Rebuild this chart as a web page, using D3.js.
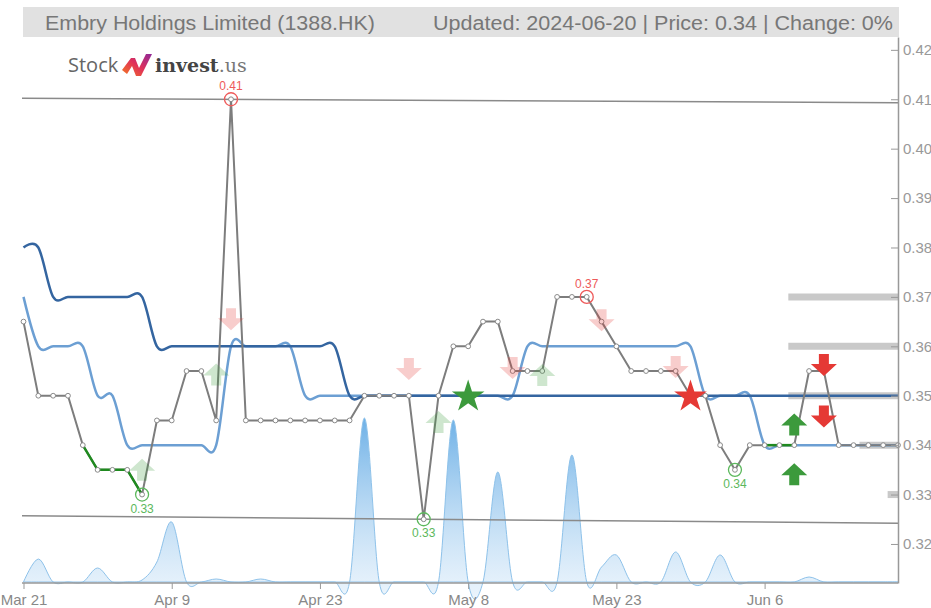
<!DOCTYPE html>
<html>
<head>
<meta charset="utf-8">
<script type="text/javascript" src="https://d3js.org/d3.v7.min.js"></script>
<title>1388.HK</title>
<style>
body { margin: 0; background: #fff; }
svg { display: block; font-family: "Liberation Sans", Arial, sans-serif; }
</style>
</head>
<body>
<div id="viz"></div>
<script type="text/javascript">

// trading days shown on the chart
var dates = ["2024-03-21","2024-03-22","2024-03-25","2024-03-26","2024-03-27","2024-03-28",
    "2024-04-02","2024-04-03","2024-04-05","2024-04-08","2024-04-09","2024-04-10","2024-04-11",
    "2024-04-12","2024-04-15","2024-04-16","2024-04-17","2024-04-18","2024-04-19","2024-04-22",
    "2024-04-23","2024-04-24","2024-04-25","2024-04-26","2024-04-29","2024-04-30","2024-05-02",
    "2024-05-03","2024-05-06","2024-05-07","2024-05-08","2024-05-09","2024-05-10","2024-05-13",
    "2024-05-14","2024-05-16","2024-05-17","2024-05-20","2024-05-21","2024-05-22","2024-05-23",
    "2024-05-24","2024-05-27","2024-05-28","2024-05-29","2024-05-30","2024-05-31","2024-06-03",
    "2024-06-04","2024-06-05","2024-06-06","2024-06-07","2024-06-11","2024-06-12","2024-06-13",
    "2024-06-14","2024-06-17","2024-06-18","2024-06-19","2024-06-20"];

var price = [0.365,0.35,0.35,0.35,0.34,0.335,0.335,0.335,0.33,0.345,
    0.345,0.355,0.355,0.345,0.41,0.345,0.345,0.345,0.345,0.345,
    0.345,0.345,0.345,0.35,0.35,0.35,0.35,0.325,0.35,0.36,
    0.36,0.365,0.365,0.355,0.355,0.355,0.37,0.37,0.37,0.365,
    0.36,0.355,0.355,0.355,0.355,0.35,0.35,0.34,0.335,0.34,
    0.34,0.34,0.34,0.355,0.355,0.34,0.34,0.34,0.34,0.34];

var maLong = [0.38,0.38,0.37,0.37,0.37,0.37,0.37,0.37,0.37,0.36,
    0.36,0.36,0.36,0.36,0.36,0.36,0.36,0.36,0.36,0.36,
    0.36,0.36,0.35,0.35,0.35,0.35,0.35,0.35,0.35,0.35,
    0.35,0.35,0.35,0.35,0.35,0.35,0.35,0.35,0.35,0.35,
    0.35,0.35,0.35,0.35,0.35,0.35,0.35,0.35,0.35,0.35,
    0.35,0.35,0.35,0.35,0.35,0.35,0.35,0.35,0.35,0.35];

var maShort = [0.37,0.36,0.36,0.36,0.36,0.35,0.35,0.34,0.34,0.34,
    0.34,0.34,0.34,0.34,0.36,0.36,0.36,0.36,0.36,0.35,
    0.35,0.35,0.35,0.35,0.35,0.35,0.35,0.35,0.35,0.35,
    0.35,0.35,0.35,0.35,0.36,0.36,0.36,0.36,0.36,0.36,
    0.36,0.36,0.36,0.36,0.36,0.36,0.35,0.35,0.35,0.35,
    0.34,0.34,0.34,0.34,0.34,0.34,0.34,0.34,0.34,0.34];

// volume, thousand shares
var volume = [0,230,0,0,0,140,0,0,20,200,
    600,0,0,30,0,0,30,0,0,0,
    0,0,0,1640,0,0,0,0,0,1620,
    0,0,1100,0,0,0,0,1270,0,150,
    270,0,0,0,300,0,0,270,0,0,
    0,0,0,50,0,0,0,0,0,0];

var yTicks = [0.32,0.33,0.34,0.35,0.36,0.37,0.38,0.39,0.40,0.41,0.42];
var xTickIdx = [0,10,20,30,40,50];

var trendHigh = [0.4102, 0.4093];
var trendLow = [0.3257, 0.3242];

var levels = [0.37, 0.36, 0.35, 0.34, 0.33];
var levelFrom = [51.6, 51.6, 51.6, 56.4, 58.3];

var greenRuns = [[4, 8], [50, 52]];

var signalIdx = [8, 13, 14, 26, 28, 33, 35, 39, 44, 52, 52, 54, 54];
var signalVal = [0.335, 0.3543, 0.3655, 0.3554, 0.3447, 0.3556, 0.3542, 0.3653, 0.3558, 0.3442, 0.3341, 0.3562, 0.3458];
var signalDir = ["up","up","down","down","up","down","up","down","down","up","up","down","down"];
var signalSolid = [false,false,false,false,false,false,false,false,false,true,true,true,true];

var starIdx = [30, 45];
var starVal = [0.35, 0.35];
var starKind = ["buy", "sell"];

var extremeIdx = [14, 38, 8, 27, 48];
var extremeKind = ["high", "high", "low", "low", "low"];

var W = 931, H = 608;
var GREEN = "#3c9a3c", RED = "#e53935";

var svg = d3.select("#viz").append("svg")
    .attr("width", W).attr("height", H);

var x = d3.scaleLinear().domain([0, dates.length - 1]).range([23.5, 898]);
var y = d3.scaleLinear().domain([0.3121, 0.4226]).range([583, 37]);
var yv = d3.scaleLinear().domain([0, 1640]).range([582, 418]);

var parse = d3.timeParse("%Y-%m-%d");
var fmt = d3.timeFormat("%b %-d");
var smooth = d3.curveCardinal.tension(0);

// header
svg.append("rect").attr("x", 23).attr("y", 7).attr("width", 876).attr("height", 30).attr("fill", "#e1e1e1");
svg.append("text").attr("x", 45).attr("y", 29.5).attr("font-size", 20).attr("fill", "#777")
    .attr("textLength", 330).attr("lengthAdjust", "spacingAndGlyphs")
    .text("Embry Holdings Limited (1388.HK)");
svg.append("text").attr("x", 433).attr("y", 29.5).attr("font-size", 20).attr("fill", "#777")
    .attr("textLength", 460).attr("lengthAdjust", "spacingAndGlyphs")
    .text("Updated: 2024-06-20 | Price: 0.34 | Change: 0%");

// logo
var defs = svg.append("defs");
var lg = defs.append("linearGradient").attr("id", "logoGrad").attr("x1", "0").attr("x2", "1").attr("y1", "1").attr("y2", "0");
lg.append("stop").attr("offset", "0").attr("stop-color", "#f47a20");
lg.append("stop").attr("offset", "0.5").attr("stop-color", "#e0305a");
lg.append("stop").attr("offset", "1").attr("stop-color", "#8e2a9a");
svg.append("text").attr("x", 68).attr("y", 72).attr("font-size", 20).attr("fill", "#666")
    .attr("font-family", "'Open Sans', sans-serif").text("Stock");
svg.append("path")
    .attr("d", "M122,70 L131,58 L135,58 L139,68 L146,54 L152,54 L141,76 L136,76 L132,66 L127,74 Z")
    .attr("fill", "url(#logoGrad)");
var logo = svg.append("text").attr("x", 155).attr("y", 72).attr("font-size", 19)
    .attr("font-family", "'DejaVu Serif', serif");
logo.append("tspan").attr("font-weight", "bold").attr("fill", "#444").text("invest");
logo.append("tspan").attr("fill", "#777").text(".us");

// volume area
var vg = defs.append("linearGradient").attr("id", "volGrad").attr("x1", "0").attr("x2", "0").attr("y1", "0").attr("y2", "1");
vg.append("stop").attr("offset", "0").attr("stop-color", "#5ea8e4").attr("stop-opacity", 0.9);
vg.append("stop").attr("offset", "1").attr("stop-color", "#d8eaf9").attr("stop-opacity", 0.5);
svg.append("path").datum(volume)
    .attr("d", d3.area().x(function(d, i){ return x(i); }).y0(yv(0)).y1(function(d){ return yv(d); }).curve(smooth))
    .attr("fill", "url(#volGrad)")
    .attr("stroke", "#8ec2ea").attr("stroke-width", 1);

// trend lines
[trendHigh, trendLow].forEach(function(t){
    svg.append("line")
        .attr("x1", x(0) - 1.5).attr("y1", y(t[0]))
        .attr("x2", x(dates.length - 1)).attr("y2", y(t[1]))
        .attr("stroke", "#8a8a8a").attr("stroke-width", 1.5);
});

// support / resistance bars
svg.selectAll("line.level").data(levels).enter().append("line")
    .attr("class", "level")
    .attr("x1", function(d, i){ return x(levelFrom[i]); })
    .attr("x2", x(dates.length - 1))
    .attr("y1", function(d){ return y(d); }).attr("y2", function(d){ return y(d); })
    .attr("stroke", "#c9c9c9").attr("stroke-width", 7);

// moving averages
var maLine = d3.line().x(function(d, i){ return x(i); }).y(function(d){ return y(d); }).curve(smooth);
svg.append("path").datum(maShort).attr("d", maLine)
    .attr("fill", "none").attr("stroke", "#6c9fd3").attr("stroke-width", 2.5);
svg.append("path").datum(maLong).attr("d", maLine)
    .attr("fill", "none").attr("stroke", "#3465a0").attr("stroke-width", 2.5);

// price
var priceLine = d3.line().x(function(d, i){ return x(i); }).y(function(d){ return y(d); });
svg.append("path").datum(price).attr("d", priceLine)
    .attr("fill", "none").attr("stroke", "#7d7d7d").attr("stroke-width", 2);
greenRuns.forEach(function(r){
    var seg = d3.range(r[0], r[1] + 1);
    svg.append("path").datum(seg)
        .attr("d", d3.line().x(function(i){ return x(i); }).y(function(i){ return y(price[i]); }))
        .attr("fill", "none").attr("stroke", "#1f8a1f").attr("stroke-width", 2.5);
});
svg.selectAll("circle.pt").data(price).enter().append("circle")
    .attr("class", "pt")
    .attr("cx", function(d, i){ return x(i); }).attr("cy", function(d){ return y(d); })
    .attr("r", 2.4).attr("fill", "#fff").attr("stroke", "#8a8a8a").attr("stroke-width", 1);

// signal arrows
var arrowUp = "M0,-11 L13,1 L5,1 L5,11 L-5,11 L-5,1 L-13,1 Z";
svg.selectAll("path.sig").data(signalIdx).enter().append("path")
    .attr("class", "sig")
    .attr("d", arrowUp)
    .attr("transform", function(d, i){
        return "translate(" + x(d) + "," + y(signalVal[i]) + ")" + (signalDir[i] == "down" ? " rotate(180)" : "");
    })
    .attr("fill", function(d, i){ return signalDir[i] == "up" ? GREEN : RED; })
    .attr("opacity", function(d, i){ return signalSolid[i] ? 1 : 0.25; });

// stars
svg.selectAll("path.star").data(starIdx).enter().append("path")
    .attr("class", "star")
    .attr("d", d3.symbol(d3.symbolStar).size(330))
    .attr("transform", function(d, i){ return "translate(" + x(d) + "," + (y(starVal[i]) + 1) + ")"; })
    .attr("fill", function(d, i){ return starKind[i] == "buy" ? GREEN : RED; });

// highs / lows
var f2 = d3.format(".2f");
extremeIdx.forEach(function(d, i){
    var hi = extremeKind[i] == "high";
    var col = hi ? "#ee5a5a" : "#5cb85c";
    svg.append("circle").attr("cx", x(d)).attr("cy", y(price[d])).attr("r", 6.5)
        .attr("fill", "none").attr("stroke", col).attr("stroke-width", 1.3);
    svg.append("text").attr("x", x(d)).attr("y", y(price[d]) + (hi ? -9 : 18))
        .attr("text-anchor", "middle").attr("font-size", 12).attr("fill", col)
        .text(f2(price[d]));
});

// axes
var xAxis = svg.append("g").attr("transform", "translate(0,583)")
    .call(d3.axisBottom(x).tickValues(xTickIdx).tickSizeOuter(0).tickSizeInner(6).tickPadding(5)
        .tickFormat(function(i){ return fmt(parse(dates[i])); }));
xAxis.select(".domain").attr("stroke", "#999").attr("stroke-width", 1.5).attr("d", "M22,0H898");
xAxis.selectAll(".tick line").attr("stroke", "#999");
xAxis.selectAll("text").attr("font-size", 15).attr("fill", "#888");

var yAxis = svg.append("g").attr("transform", "translate(898,0)")
    .call(d3.axisRight(y).tickValues(yTicks).tickSizeOuter(0).tickSizeInner(-7).tickPadding(5)
        .tickFormat(f2));
yAxis.select(".domain").attr("stroke", "#999").attr("stroke-width", 1.5);
yAxis.selectAll(".tick line").attr("stroke", "#999");
yAxis.selectAll("text").attr("font-size", 15).attr("fill", "#999");

</script>
</body>
</html>
